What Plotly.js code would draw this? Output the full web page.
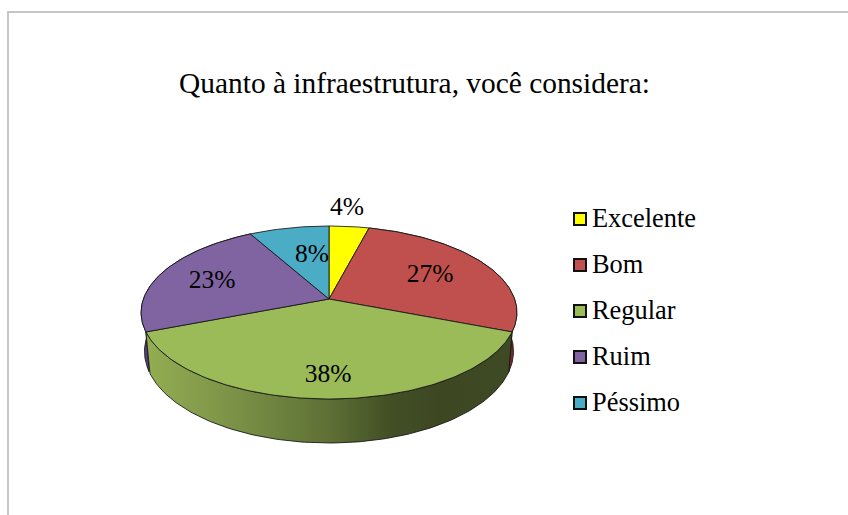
<!DOCTYPE html>
<html>
<head>
<meta charset="utf-8">
<script src="https://cdn.plot.ly/plotly-3.0.1.min.js"></script>
<style>html,body{margin:0;padding:0;background:#fff}#c{width:848px;height:515px}</style>
</head>
<body>
<div id="c"></div>
<script>
const chartTitle = 'Quanto à infraestrutura, você considera:';
const categories = ['Excelente', 'Bom', 'Regular', 'Ruim', 'Péssimo'];
const percents = [4, 27, 38, 23, 8];
const faceColors = ['#ffff00', '#c0504d', '#9bbb59', '#8064a2', '#4bacc6'];
const wallColors = ['#8c8c00', '#7a2a28', '#6a8038', '#563f78', '#2f7a8e'];

// Layout of the drawing (one axis unit = one pixel)
const CX = 329, CY = 299, A = 84.4, B = 185.6, K = 0.156;
const WALL = {sx: 0.982, sy: 1.06, dy: 38};
const labelAt = [[347, 209], [430, 276], [328, 376], [212, 282], [312, 256]];
const keyX = 580, keyTextX = 592, keyY = [219, 265, 311, 357, 403];
const FONT = '"Liberation Serif","Times New Roman",serif';

function rim(deg, w) {
  const t = deg * Math.PI / 180, X = Math.sin(t), Y = Math.cos(t), d = 1 + K * Y;
  const px = B * X / d, py = -A * Y / d;
  return w ? [CX + px * WALL.sx, CY + py * WALL.sy + WALL.dy] : [CX + px, CY + py];
}
function arc(a, b, w) {
  const pts = [], n = Math.max(2, Math.ceil(Math.abs(b - a)));
  for (let i = 0; i <= n; i++) pts.push(rim(a + (b - a) * i / n, w));
  return pts;
}
const bounds = []; let acc = 0;
percents.forEach(p => { bounds.push([acc * 3.6, (acc + p) * 3.6]); acc += p; });

const traces = [];
const edge = {color: 'rgba(20,20,20,0.85)', width: 1};
// Side walls, back ones first; the front (Regular) wall carries the shading
[1, 3, 2].forEach(i => {
  const [a, b] = bounds[i];
  const pts = arc(a, b, false).concat(arc(b, a, true));
  pts.push(pts[0]);
  const t = {
    type: 'scatter', mode: 'lines', x: pts.map(p => p[0]), y: pts.map(p => p[1]),
    fill: 'toself', fillcolor: wallColors[i], line: edge, hoverinfo: 'skip', showlegend: false
  };
  if (i === 2) {
    t.fillgradient = {
      type: 'horizontal',
      colorscale: [[0, '#93ad52'], [0.18, '#82994a'], [0.34, '#6f8540'], [0.5, '#5e7035'],
                   [0.66, '#435026'], [0.8, '#3d4823'], [1, '#3e4a24']]
    };
  }
  traces.push(t);
});
// Top faces
percents.forEach((p, i) => {
  const [a, b] = bounds[i];
  const pts = [[CX, CY]].concat(arc(a, b, false));
  pts.push([CX, CY]);
  traces.push({
    type: 'scatter', mode: 'lines', name: categories[i],
    x: pts.map(q => q[0]), y: pts.map(q => q[1]),
    fill: 'toself', fillcolor: faceColors[i], line: edge,
    text: categories[i] + ': ' + p + '%', hoverinfo: 'text', hoveron: 'fills', showlegend: false
  });
});
// Percent labels
traces.push({
  type: 'scatter', mode: 'text', x: labelAt.map(l => l[0]), y: labelAt.map(l => l[1]),
  text: percents.map(p => p + '%'), textposition: 'middle center',
  textfont: {family: FONT, size: 25.5, color: '#000'}, hoverinfo: 'skip', showlegend: false
});
// Colour key: swatches and names
traces.push({
  type: 'scatter', mode: 'markers', x: keyY.map(() => keyX), y: keyY,
  marker: {symbol: 'square', size: 12, color: faceColors, line: {color: '#111', width: 2}},
  hoverinfo: 'skip', showlegend: false
});
traces.push({
  type: 'scatter', mode: 'text', x: keyY.map(() => keyTextX), y: keyY.map(v => v + 1),
  text: categories, textposition: 'middle right',
  textfont: {family: FONT, size: 26.4, color: '#000'}, hoverinfo: 'skip', showlegend: false
});

const layout = {
  width: 848, height: 515, margin: {l: 0, r: 0, t: 0, b: 0},
  paper_bgcolor: '#fff', plot_bgcolor: '#fff', showlegend: false, hovermode: 'closest',
  title: {text: chartTitle, font: {family: FONT, size: 29.4, color: '#000'},
          x: 414.5 / 848, xanchor: 'center', xref: 'paper', y: 1 - 83 / 515, yanchor: 'middle', yref: 'container'},
  xaxis: {range: [0, 848], visible: false, fixedrange: true},
  yaxis: {range: [515, 0], visible: false, fixedrange: true},
  shapes: [
    {type: 'line', xref: 'x', yref: 'y', x0: 8, x1: 8, y0: 11, y1: 515, line: {color: '#c6c6c6', width: 2}},
    {type: 'line', xref: 'x', yref: 'y', x0: 7, x1: 848, y0: 12, y1: 12, line: {color: '#c6c6c6', width: 2}}
  ]
};
Plotly.newPlot('c', traces, layout, {displayModeBar: false, responsive: false});
</script>
</body>
</html>
